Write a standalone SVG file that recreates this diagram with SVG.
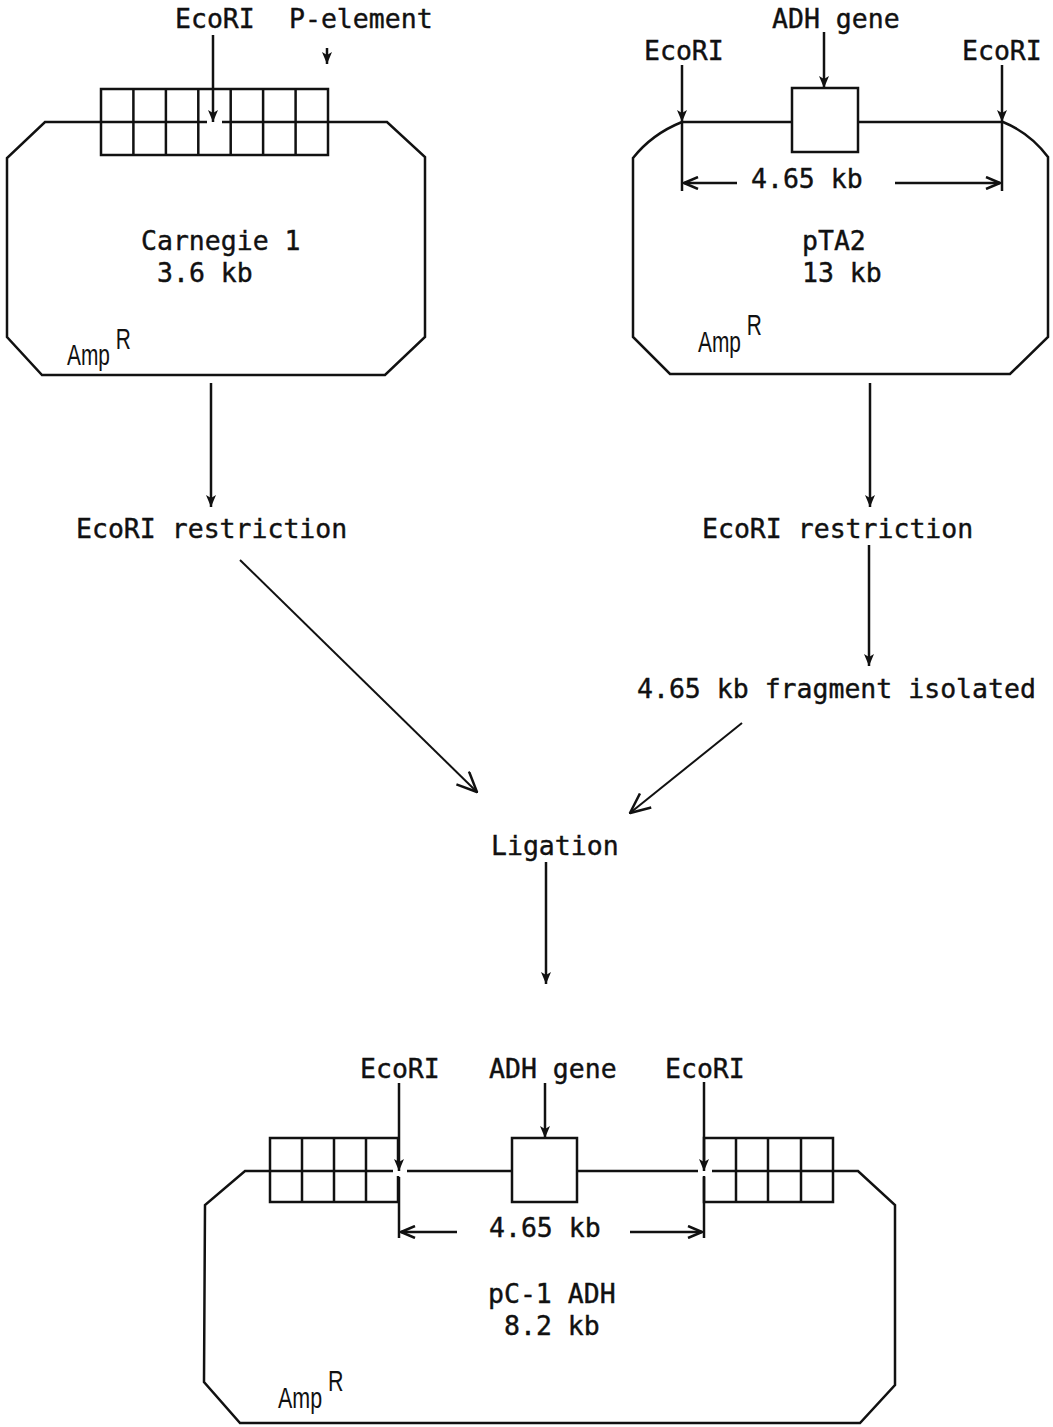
<svg xmlns="http://www.w3.org/2000/svg" width="1053" height="1427" viewBox="0 0 1053 1427">
<style>
.t{font-family:"DejaVu Sans Mono","Liberation Mono",monospace;font-size:26.5px;fill:#111;stroke:#111;stroke-width:0.4}
.a{font-family:"Liberation Sans",Arial,sans-serif;font-size:29px;fill:#111}
.l{fill:none;stroke:#111;stroke-width:2.5;stroke-linejoin:miter}
.f{stroke:#111;stroke-width:2.5;fill:none;marker-end:url(#fa)}
.v{stroke:#111;stroke-width:2;fill:none;marker-end:url(#va)}
.d{stroke:#111;stroke-width:2.5;fill:none;marker-end:url(#da)}
</style>
<defs>
<marker id="fa" viewBox="0 0 12 10" refX="12" refY="5" markerWidth="13" markerHeight="10" markerUnits="userSpaceOnUse" orient="auto"><path d="M0,0 L12,5 L0,10 L3,5 z" fill="#111"/></marker>
<marker id="va" viewBox="0 0 22 20" refX="21" refY="10" markerWidth="22" markerHeight="20" markerUnits="userSpaceOnUse" orient="auto"><path d="M1,1 L21,10 L1,19" fill="none" stroke="#111" stroke-width="2.5"/></marker>
<marker id="da" viewBox="0 0 16 14" refX="15" refY="7" markerWidth="16" markerHeight="14" markerUnits="userSpaceOnUse" orient="auto"><path d="M1,1 L15,7 L1,13" fill="none" stroke="#111" stroke-width="2.5"/></marker>
</defs>
<rect width="1053" height="1427" fill="#fff"/>

<g id="carnegie1">
<path class="l" d="M101,122 L45,122 L7,158 L7,337 L42,375 L385,375 L425,337 L425,157 L387,122 L328,122"/>
<rect class="l" x="101" y="89" width="227" height="66"/>
<path class="l" d="M101,122 L207,122 M222,122 L328,122 M133.4,89 V155 M165.9,89 V155 M198.3,89 V155 M230.7,89 V155 M263.1,89 V155 M295.6,89 V155"/>
<line class="f" x1="213" y1="35" x2="213" y2="122"/>
<line class="f" x1="327" y1="48" x2="327" y2="64"/>
<text class="t" x="175" y="28">EcoRI</text>
<text class="t" x="289" y="28">P-element</text>
<text class="t" x="141" y="250">Carnegie 1</text>
<text class="t" x="157" y="282">3.6 kb</text>
<text class="a" transform="translate(67,365) scale(0.72,1)">Amp<tspan dx="8" dy="-16">R</tspan></text>
</g>

<g id="pTA2">
<path class="l" d="M792,122 L682,122 Q652,134 633,158 L633,337 L670,374 L1010,374 L1048,337 L1048,157 Q1030,133 1003,122 L858,122"/>
<rect class="l" x="792" y="88" width="66" height="64"/>
<line class="f" x1="824" y1="32" x2="824" y2="88"/>
<line class="f" x1="682" y1="65" x2="682" y2="122"/>
<line class="l" x1="682" y1="122" x2="682" y2="191"/>
<line class="f" x1="1002" y1="65" x2="1002" y2="122"/>
<line class="l" x1="1002" y1="122" x2="1002" y2="191"/>
<line class="d" x1="737" y1="183" x2="684" y2="183"/>
<line class="d" x1="895" y1="183" x2="1000" y2="183"/>
<text class="t" x="772" y="28">ADH gene</text>
<text class="t" x="644" y="60">EcoRI</text>
<text class="t" x="962" y="60">EcoRI</text>
<text class="t" x="751" y="188">4.65 kb</text>
<text class="t" x="802" y="250">pTA2</text>
<text class="t" x="802" y="282">13 kb</text>
<text class="a" transform="translate(698,352) scale(0.72,1)">Amp<tspan dx="8" dy="-17">R</tspan></text>
</g>

<g id="step-left">
<text class="t" x="76" y="538">EcoRI restriction</text>
</g>
<g id="step-right">
<text class="t" x="702" y="538">EcoRI restriction</text>
</g>
<g id="fragment">
<text class="t" x="637" y="698">4.65 kb fragment isolated</text>
</g>
<g id="ligation">
<text class="t" x="491" y="855">Ligation</text>
</g>

<g id="pC1ADH">
<path class="l" d="M270,1171 L245,1171 L205,1205 L204,1382 L240,1423 L860,1423 L895,1385 L895,1205 L858,1171 L833,1171"/>
<rect class="l" x="270" y="1138" width="128" height="64"/>
<path class="l" d="M270,1171 L393,1171 M302,1138 V1202 M334,1138 V1202 M366,1138 V1202"/>
<rect class="l" x="704" y="1138" width="129" height="64"/>
<path class="l" d="M712,1171 L833,1171 M736,1138 V1202 M768,1138 V1202 M801,1138 V1202"/>
<path class="l" d="M407,1171 L512,1171 M577,1171 L698,1171"/>
<rect class="l" x="512" y="1138" width="65" height="64"/>
<rect x="700" y="1162" width="8" height="14" fill="#fff"/>
<rect x="395" y="1162" width="8" height="14" fill="#fff"/>
<line class="f" x1="399" y1="1083" x2="399" y2="1171"/>
<line class="l" x1="399" y1="1177" x2="399" y2="1238"/>
<line class="f" x1="704" y1="1082" x2="704" y2="1171"/>
<line class="l" x1="704" y1="1177" x2="704" y2="1238"/>
<line class="f" x1="545" y1="1083" x2="545" y2="1138"/>
<line class="d" x1="457" y1="1232" x2="401" y2="1232"/>
<line class="d" x1="630" y1="1232" x2="702" y2="1232"/>
<text class="t" x="360" y="1078">EcoRI</text>
<text class="t" x="489" y="1078">ADH gene</text>
<text class="t" x="665" y="1078">EcoRI</text>
<text class="t" x="489" y="1237">4.65 kb</text>
<text class="t" x="488" y="1303">pC-1 ADH</text>
<text class="t" x="504" y="1335">8.2 kb</text>
<text class="a" transform="translate(278,1408) scale(0.74,1)">Amp<tspan dx="8" dy="-17">R</tspan></text>
</g>

<g id="connectors">
<line class="f" x1="211" y1="383" x2="211" y2="507"/>
<line class="f" x1="870" y1="383" x2="870" y2="507"/>
<line class="f" x1="869" y1="545" x2="869" y2="666"/>
<line class="v" x1="240" y1="560" x2="477" y2="792"/>
<line class="v" x1="742" y1="723" x2="630" y2="813"/>
<line class="f" x1="546" y1="862" x2="546" y2="984"/>
</g>
</svg>
